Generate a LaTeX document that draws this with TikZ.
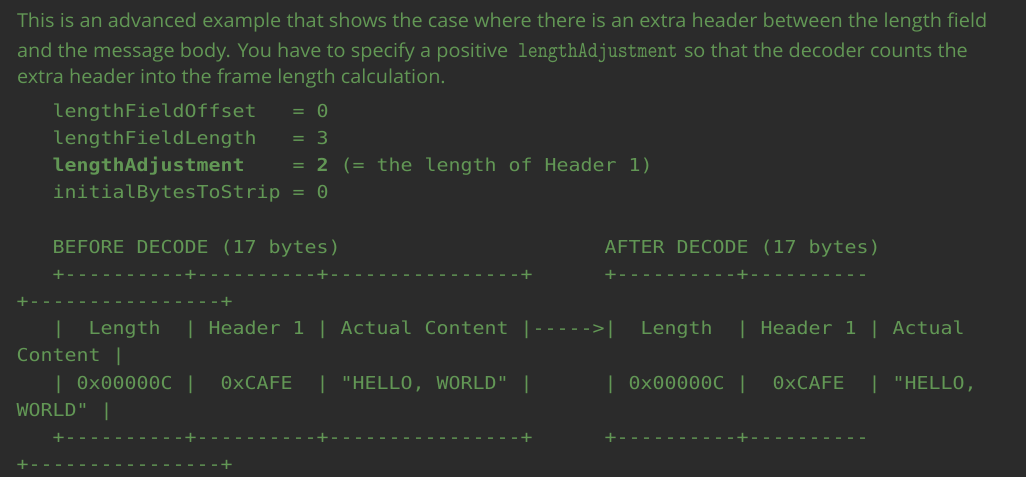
\documentclass[tikz,border=0pt]{standalone}
\usepackage{fontspec}
\setmainfont[FakeStretch=1.035]{Open Sans}
\setmonofont[FakeStretch=1.12]{DejaVu Sans Mono}
\newfontfamily\inlcode{lmmono10-regular}[Extension=.otf]
\definecolor{bg}{HTML}{2B2B2B}
\definecolor{doc}{HTML}{629755}
\begin{document}
\begin{tikzpicture}[x=1pt,y=-1pt,
  prose/.style={anchor=base west, inner sep=0pt, outer sep=0pt, text=doc, font=\fontsize{19.2}{22}\selectfont},
  inl/.style={anchor=base west, inner sep=0pt, outer sep=0pt, text=doc, font=\inlcode\fontsize{19}{22}\selectfont},
  code/.style={anchor=base west, inner sep=0pt, outer sep=0pt, text=doc, font=\ttfamily\fontsize{17.8}{22}\selectfont}]
\fill[bg] (0,0) rectangle (1026,477);
\useasboundingbox (0,0) rectangle (1026,477);
% prose
\node[prose] (p1) at (17,27) {This is an advanced example that shows the case where there is an extra header between the length field};
\node[prose] (p2a) at (17,57) {and the message body. You have to specify a positive};
\node[inl] (p2b) at (518,57) {\scalebox{1}[1.2]{lengthAdjustment}};
\node[prose] (p2c) at (684,57) {so that the decoder counts the};
\node[prose] (p3) at (17,83) {extra header into the frame length calculation.};
% code
\def\cx{52.5}
\def\wx{16.5}
\node[code] (c0) at (\cx,117) {lengthFieldOffset~~~=~0};
\node[code] (c1) at (\cx,144.2) {lengthFieldLength~~~=~3};
\node[code] (c2) at (\cx,171.4) {\textbf{lengthAdjustment}~~~~=~\textbf{2}~(=~the~length~of~Header~1)};
\node[code] (c3) at (\cx,198.6) {initialBytesToStrip~=~0};
\node[code] (c5) at (\cx,253) {BEFORE~DECODE~(17~bytes)~~~~~~~~~~~~~~~~~~~~~~AFTER~DECODE~(17~bytes)};
\node[code] (c6) at (\cx,280.2) {+----------+----------+----------------+~~~~~~+----------+----------};
\node[code] (c7) at (\wx,307.4) {+----------------+};
\node[code] (c8) at (\cx,334.6) {|~~Length~~|~Header~1~|~Actual~Content~|----->|~~Length~~|~Header~1~|~Actual};
\node[code] (c9) at (\wx,361.8) {Content~|};
\node[code] (c10) at (\cx,389) {|~0x00000C~|~~0xCAFE~~|~"HELLO,~WORLD"~|~~~~~~|~0x00000C~|~~0xCAFE~~|~"HELLO,};
\node[code] (c11) at (\wx,416.2) {WORLD"~|};
\node[code] (c12) at (\cx,443.4) {+----------+----------+----------------+~~~~~~+----------+----------};
\node[code] (c13) at (\wx,470.6) {+----------------+};
\end{tikzpicture}
\end{document}
